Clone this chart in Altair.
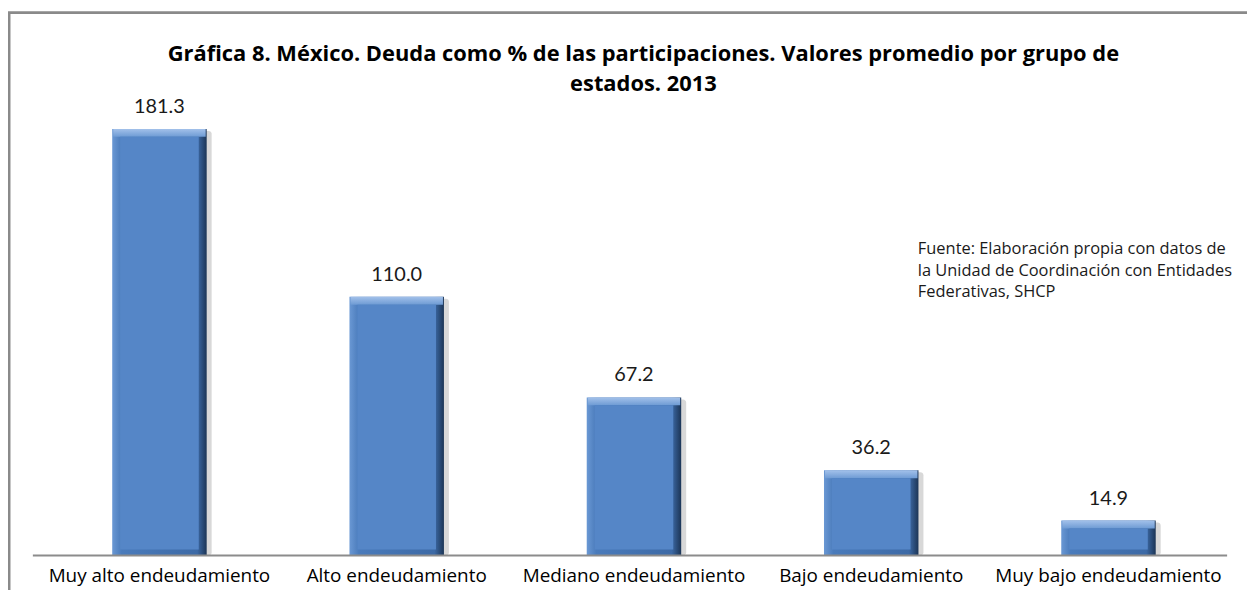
import altair as alt
import pandas as pd

categories = ["Muy alto endeudamiento", "Alto endeudamiento", "Mediano endeudamiento",
              "Bajo endeudamiento", "Muy bajo endeudamiento"]
values = [181.3, 110.0, 67.2, 36.2, 14.9]
labels = ["181.3", "110.0", "67.2", "36.2", "14.9"]

title_lines = ["Gráfica 8. México. Deuda como % de las participaciones. Valores promedio por grupo de",
               "estados. 2013"]
source_lines = ["\u00a0Fuente: Elaboración propia  con  datos de",
                "la Unidad de Coordinación con Entidades",
                "Federativas, SHCP"]

df = pd.DataFrame({"cat": categories, "val": values, "lab": labels})
one = pd.DataFrame({"k": [0]})

FONT = "Open Sans"
W, H = 1193, 457
BW = 95
BEV = 8

x = alt.X("cat:N", sort=categories, title=None,
          scale=alt.Scale(paddingInner=0.6, paddingOuter=0.3),
          axis=alt.Axis(labelAngle=0, labelFontSize=19, labelFont=FONT, labelColor="#000000",
                        ticks=False, domain=False, labelPadding=11, labelLimit=300))
y = alt.Y("val:Q", scale=alt.Scale(domain=[0, 193.1], nice=False), axis=None)

base = alt.Chart(df).encode(x=x)

shadow = base.mark_bar(size=BW, color="#8f8f8f", opacity=0.35, xOffset=5, yOffset=2,
                       cornerRadius=3).encode(y=y, y2=alt.datum(0))
outer = base.mark_bar(size=BW).encode(
    y=y, y2=alt.datum(0),
    color=alt.value(alt.Gradient(gradient="linear", x1=0, x2=1, y1=0, y2=0,
                                 stops=[alt.GradientStop(color="#6a98d4", offset=0),
                                        alt.GradientStop(color="#4a7bbb", offset=0.1),
                                        alt.GradientStop(color="#3d6aa6", offset=0.9),
                                        alt.GradientStop(color="#1c3556", offset=1)])))
topbev = base.mark_bar(size=BW - 2, y2Offset=BEV).encode(
    y=y, y2=alt.Y2("val:Q"),
    color=alt.value(alt.Gradient(gradient="linear", x1=0, x2=0, y1=0, y2=1,
                                 stops=[alt.GradientStop(color="#a3c1ea", offset=0),
                                        alt.GradientStop(color="#6e9bd4", offset=1)])))
inner = base.mark_bar(size=BW - 2 * BEV, yOffset=BEV, y2Offset=-6, color="#5586c7").encode(
    y=y, y2=alt.datum(0))

text = base.mark_text(baseline="alphabetic", dy=-16, fontSize=20, font="Lato",
                      color="#1a1a1a").encode(y=y, text="lab:N")

axisline = alt.Chart(one).mark_rule(color="#8c8c8c", strokeWidth=2).encode(
    x=alt.value(-8), x2=alt.value(W), y=alt.value(H))

border = alt.Chart(one).mark_rect(fill=None, stroke="#8a8a8a", strokeWidth=3).encode(
    x=alt.value(-32), x2=alt.value(1260), y=alt.value(-89), y2=alt.value(520))

title = alt.Chart(one).mark_text(align="center", baseline="middle", fontSize=22, font=FONT,
                                 fontWeight="bold", color="#000000", lineHeight=30).encode(
    x=alt.value(606), y=alt.value(-47), text=alt.value(title_lines))

source = alt.Chart(one).mark_text(align="left", baseline="middle", fontSize=16.5,
                                  font=FONT, color="#1a1a1a", lineHeight=21.5).encode(
    x=alt.value(882), y=alt.value(149), text=alt.value(source_lines))

chart = alt.layer(border, shadow, outer, topbev, inner, axisline, text, source, title).properties(
    width=W, height=H,
    padding={"left": 33, "top": 92, "right": 20, "bottom": 33},
    autosize=alt.AutoSizeParams(type="none"),
).configure(background="white").configure_view(stroke=None)

chart.save("out.html", embed_options={"renderer": "svg", "actions": False})
